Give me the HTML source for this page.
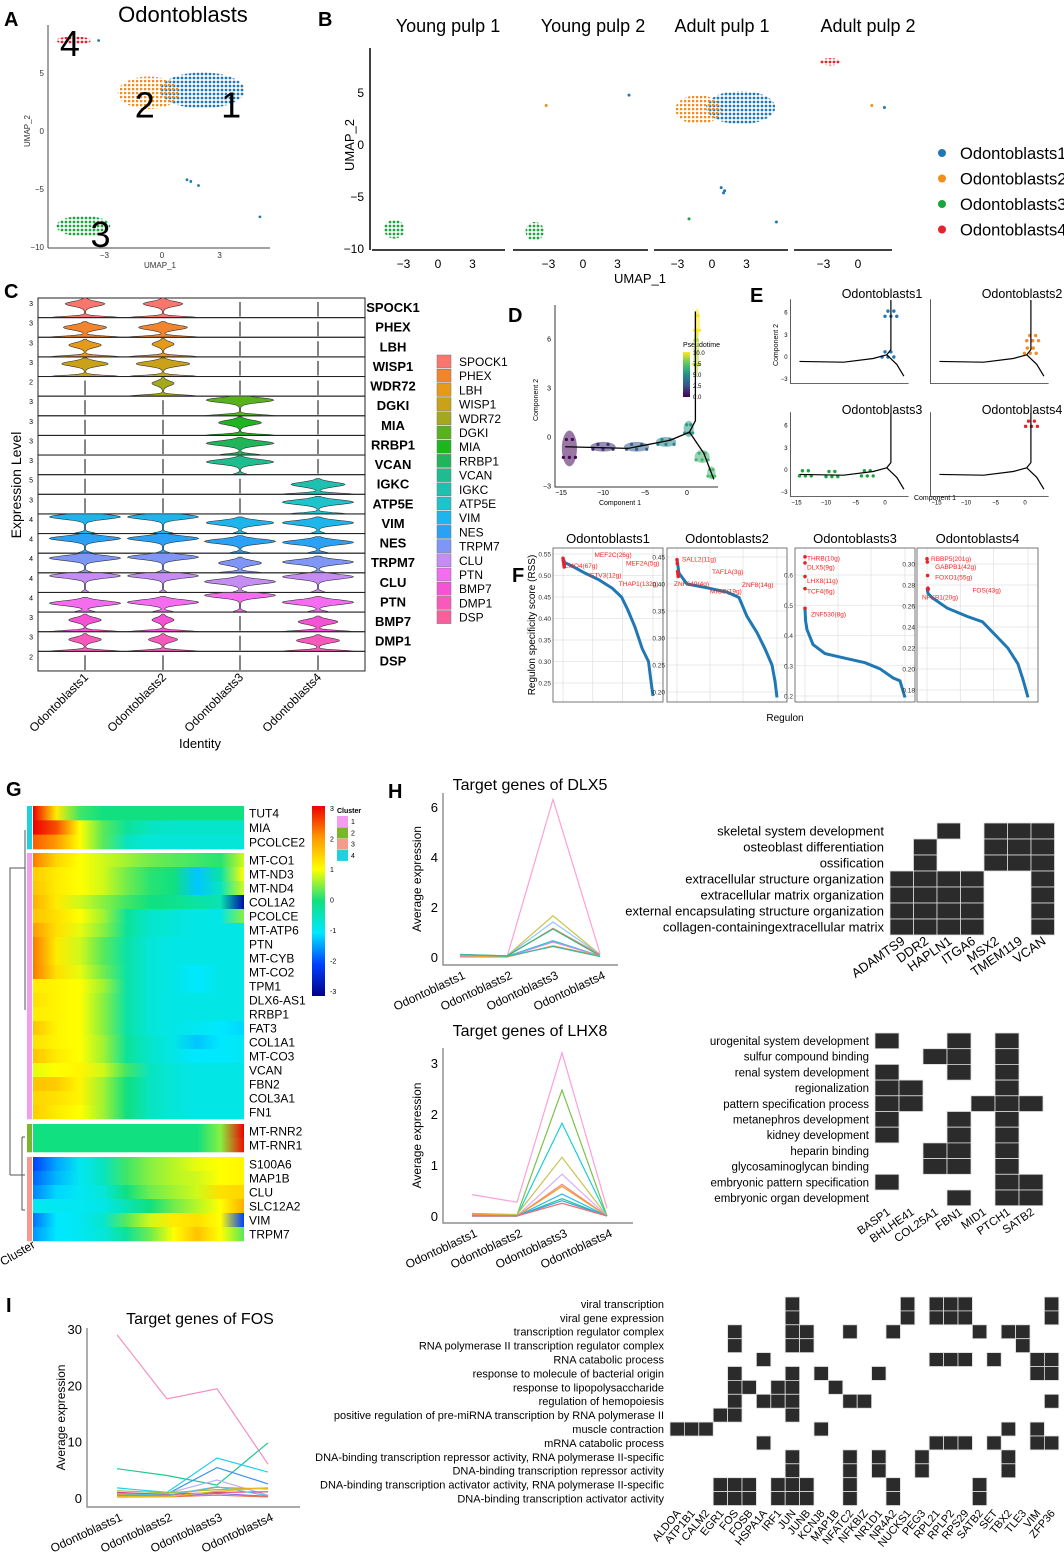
<!DOCTYPE html>
<html><head><meta charset="utf-8">
<style>
html,body{margin:0;padding:0;background:#fff;}
svg{display:block;font-family:"Liberation Sans",Arial,sans-serif;}
.pl{font-size:20px;font-weight:bold;}
</style></head>
<body>
<svg id="fig" width="1064" height="1560" viewBox="0 0 1064 1560" xmlns="http://www.w3.org/2000/svg">
<defs>
<pattern id="dot-c1" width="4" height="4" patternUnits="userSpaceOnUse"><circle cx="2" cy="2" r="1.4" fill="#1f78b4"/></pattern>
<pattern id="dot-c2" width="4" height="4" patternUnits="userSpaceOnUse"><circle cx="1" cy="1" r="1.4" fill="#f28e1c"/></pattern>
<pattern id="dot-c3" width="4" height="4" patternUnits="userSpaceOnUse"><circle cx="2" cy="2" r="1.4" fill="#1aa63c"/></pattern>
<pattern id="dot-c4" width="4" height="4" patternUnits="userSpaceOnUse"><circle cx="2" cy="2" r="1.4" fill="#e8212a"/></pattern>
<linearGradient id="pt-grad" x1="0" y1="1" x2="0" y2="0">
<stop offset="0" stop-color="#440154"/><stop offset="0.25" stop-color="#3b528b"/><stop offset="0.5" stop-color="#21908c"/><stop offset="0.75" stop-color="#5dc863"/><stop offset="1" stop-color="#fde725"/></linearGradient>
<linearGradient id="hm-grad" x1="0" y1="1" x2="0" y2="0">
<stop offset="0" stop-color="#00008b"/><stop offset="0.1667" stop-color="#0040ff"/><stop offset="0.3333" stop-color="#00e8ff"/><stop offset="0.5" stop-color="#10e080"/><stop offset="0.6667" stop-color="#ffff00"/><stop offset="0.8333" stop-color="#ff9900"/><stop offset="1" stop-color="#ee0000"/></linearGradient>
</defs>
<g id="static">
<text class="pl" x="4" y="26">A</text>
<text class="pl" x="318" y="26">B</text>
<text class="pl" x="4" y="298">C</text>
<text class="pl" x="508" y="322">D</text>
<text class="pl" x="750" y="302">E</text>
<text class="pl" x="512" y="582">F</text>
<text class="pl" x="6" y="796">G</text>
<text class="pl" x="388" y="798">H</text>
<text class="pl" x="6" y="1312">I</text>
<text x="183" y="22" font-size="22" text-anchor="middle">Odontoblasts</text>
<text x="160" y="268" font-size="8" text-anchor="middle" fill="#333">UMAP_1</text>
<text x="0" y="0" font-size="8" text-anchor="middle" fill="#333" transform="translate(30,131) rotate(-90)">UMAP_2</text>
<text x="640" y="283" font-size="13" text-anchor="middle">UMAP_1</text>
<text x="0" y="0" font-size="13" text-anchor="middle" transform="translate(354,145) rotate(-90)">UMAP_2</text>
<text x="0" y="0" font-size="14" text-anchor="middle" transform="translate(21,485) rotate(-90)">Expression Level</text>
<text x="200" y="748" font-size="13" text-anchor="middle">Identity</text>
<text x="620" y="505" font-size="7" text-anchor="middle">Component 1</text>
<text x="0" y="0" font-size="7" text-anchor="middle" transform="translate(538,400) rotate(-90)">Component 2</text>
<text x="683" y="347" font-size="7">Pseudotime</text>
<text x="935" y="500" font-size="7" text-anchor="middle">Component 1</text>
<text x="0" y="0" font-size="7" text-anchor="middle" transform="translate(778,345) rotate(-90)">Component 2</text>
<text x="0" y="0" font-size="10" text-anchor="middle" transform="translate(535,625) rotate(-90)">Regulon specificity score (RSS)</text>
<text x="785" y="721" font-size="10" text-anchor="middle">Regulon</text>
<text x="0" y="0" font-size="12" text-anchor="start" transform="translate(3,1266) rotate(-30)">Cluster</text>
</g>
<g id="dyn"></g>
</svg>
<script>
const NS='http://www.w3.org/2000/svg';
const root=document.getElementById('dyn');
function mk(tag,attrs,parent,text){const e=document.createElementNS(NS,tag);for(const k in attrs)e.setAttribute(k,attrs[k]);if(text!==undefined)e.textContent=text;(parent||root).appendChild(e);return e;}
function grp(name){const g=mk('g',{});return g;}

/* ===== Panel A / B data ===== */
const clusterNames=['Odontoblasts1','Odontoblasts2','Odontoblasts3','Odontoblasts4'];
const clusterColors=['#1f78b4','#f28e1c','#1aa63c','#e8212a'];
const aCx=[2.1,-0.7,-4.1,-4.6];
const aCy=[3.5,3.3,-8.2,7.8];
const aRx=[2.2,1.6,1.4,0.9];
const aRy=[1.55,1.4,0.9,0.35];
const aOutX=[-3.3,1.3,1.5,1.9,5.1];
const aOutY=[7.8,-4.2,-4.35,-4.7,-7.4];
const aLabelText=['1','2','3','4'];
const aLabelX=[3.6,-0.9,-3.2,-4.8];
const aLabelY=[2.3,2.3,-8.9,7.6];
const aTicksX=[-3,0,3];
const aTicksY=[5,0,-5,-10];

/* panel B samples */
const bSamples=['Young pulp 1','Young pulp 2','Adult pulp 1','Adult pulp 2'];
const bClSample=[0,1,2,2,3];
const bClCluster=[2,2,0,1,3];
const bClX=[-3.8,-4.2,2.5,-1.2,-2.4];
const bClY=[-8.1,-8.3,3.6,3.4,8.0];
const bClRx=[0.9,0.8,3.0,2.0,0.9];
const bClRy=[0.9,0.9,1.6,1.4,0.35];
const bOutSample=[1,1,2,2,2,2,2,3,3];
const bOutCluster=[1,0,0,0,0,2,0,1,0];
const bOutX=[-3.2,4.0,0.8,1.1,1.0,-2.0,5.6,1.2,2.3];
const bOutY=[3.8,4.8,-4.1,-4.4,-4.6,-7.1,-7.4,3.8,3.6];

/* Panel A */
(function(){
 const g=grp('panel-a-umap');
 const X=v=>162+v*19.2, Y=v=>131-v*11.6;
 let e=mk('line',{x1:48,y1:25,x2:48,y2:248,stroke:'#444','stroke-width':1},g);
 e=mk('line',{x1:48,y1:248,x2:270,y2:248,stroke:'#444','stroke-width':1},g);
 aTicksX.forEach(t=>{const l=mk('text',{x:X(t),y:258,'font-size':8,'text-anchor':'middle',fill:'#333'},g,String(t).replace('-','−'));});
 aTicksY.forEach(t=>{const l=mk('text',{x:44,y:Y(t)+3,'font-size':8,'text-anchor':'end',fill:'#333'},g,String(t).replace('-','−'));});
 aCx.forEach((c,i)=>{const el=mk('ellipse',{cx:X(c),cy:Y(aCy[i]),rx:aRx[i]*19.2,ry:aRy[i]*11.6,fill:'url(#dot-c'+(i+1)+')'},g);});
 aOutX.forEach((x,i)=>{const el=mk('circle',{cx:X(x),cy:Y(aOutY[i]),r:1.4,fill:clusterColors[0]},g);});
 aLabelText.forEach((t,i)=>{const el=mk('text',{x:X(aLabelX[i]),y:Y(aLabelY[i])+13,'font-size':36,'text-anchor':'middle'},g,t);});
})();

/* Panel B */
(function(){
 const g=grp('panel-b-umap-by-sample');
 const zeros=[438,583,712,858], segs=[[372,505],[513,648],[654,788],[794,892]];
 const Y=v=>145-v*10.4;
 let e=mk('line',{x1:370,y1:48,x2:370,y2:250,stroke:'#000','stroke-width':1.5},g);
 [5,0,-5,-10].forEach(t=>{const l=mk('text',{x:364,y:Y(t)+4,'font-size':12,'text-anchor':'end'},g,String(t).replace('-','−'));});
 bSamples.forEach((s,i)=>{
  const t=mk('text',{x:zeros[i]+10,y:32,'font-size':18,'text-anchor':'middle'},g,s);
  const a=mk('line',{x1:segs[i][0],y1:250,x2:segs[i][1],y2:250,stroke:'#000','stroke-width':1.5},g);
  [-3,0,3].forEach(tk=>{if(zeros[i]+tk*11.5>segs[i][1])return;const l=mk('text',{x:zeros[i]+tk*11.5,y:268,'font-size':12,'text-anchor':'middle'},g,String(tk).replace('-','−'));});
 });
 bClX.forEach((x,i)=>{const s=bClSample[i];const el=mk('ellipse',{cx:zeros[s]+x*11.5,cy:Y(bClY[i]),rx:bClRx[i]*11.5,ry:bClRy[i]*10.4,fill:'url(#dot-c'+(bClCluster[i]+1)+')'},g);});
 bOutX.forEach((x,i)=>{const el=mk('circle',{cx:zeros[bOutSample[i]]+x*11.5,cy:Y(bOutY[i]),r:1.5,fill:clusterColors[bOutCluster[i]]},g);});
 const lg=grp('b-legend');
 clusterNames.forEach((n,i)=>{const c=mk('circle',{cx:942,cy:153+i*25.5,r:4,fill:clusterColors[i]},lg);
  const t=mk('text',{x:960,y:159+i*25.5,'font-size':16.5},lg,n);});
})();

/* ===== Panel C violin data ===== */
const vGenes=['SPOCK1','PHEX','LBH','WISP1','WDR72','DGKI','MIA','RRBP1','VCAN','IGKC','ATP5E','VIM','NES','TRPM7','CLU','PTN','BMP7','DMP1','DSP'];
const vColors=['#f8766d','#f1842c','#e69a1a','#c9a21a','#a4a81c','#58b21e','#1fb51e','#20b55a','#1ebd8f','#1ec0b0','#1ec3cc','#1eb5ec','#2aa1f5','#7f96f6','#c58cf4','#f46cf0','#f552d6','#f75aba','#f8609c'];
const vTicks=['3','3','3','3','2','3','3','3','3','5','3','4','4','4','4','4','3','3','2'];
const vBulge=[[.55,.55,0,0],[.6,.68,0,0],[.45,.3,0,0],[.65,.75,0,0],[0,.3,0,0],[0,0,.95,0],[0,0,.6,0],[0,0,.95,0],[0,0,.95,0],[0,0,0,.75],[0,0,0,1],[1,1,.95,1],[1,1,1,1],[1,1,.6,1],[1,1,1,1],[1,1,1,1],[.45,.3,0,.55],[.45,.4,0,.6],[0,0,0,0]];
const vPos=[[.7,.7,0,0],[.5,.5,0,0],[.6,.65,0,0],[.65,.65,0,0],[0,.65,0,0],[0,0,.8,0],[0,0,.65,0],[0,0,.6,0],[0,0,.65,0],[0,0,0,.5],[0,0,0,.6],[.85,.85,.55,.55],[.75,.75,.6,.55],[.75,.8,.5,.55],[.85,.85,.55,.8],[.45,.5,.85,.5],[.6,.6,0,.5],[.6,.6,0,.55],[0,0,0,0]];
const vBase=[[1,1,0,0],[1,1,0,0],[1,1,0,0],[1,1,0,0],[0,1,0,0],[0,0,1,0],[0,0,1,0],[0,0,.6,0],[0,0,.2,0],[0,0,0,1],[0,0,0,.8],[.3,.3,.2,.2],[.2,.2,.3,.3],[.2,.2,.6,.2],[.1,.1,.2,.2],[.3,.3,.2,.3],[1,1,0,1],[1,1,0,1],[0,0,0,0]];
(function(){
 const g=grp('panel-c-violin');
 const top=298,h=19.63,x0=38,x1=365,cx=[85,163,240,318],W=35;
 vGenes.forEach((gn,r)=>{
  const y0=top+r*h,yb=y0+h;
  const fr=mk('rect',{x:x0,y:y0,width:x1-x0,height:h,fill:'none',stroke:'#222','stroke-width':1},g);
  const tk=mk('text',{x:33,y:y0+8,'font-size':7,'text-anchor':'end'},g,vTicks[r]);
  const lb=mk('text',{x:393,y:y0+14,'font-size':13,'font-weight':'bold','text-anchor':'middle'},g,gn);
  for(let c=0;c<4;c++){
   const b=vBulge[r][c],p=vPos[r][c],bs=vBase[r][c];
   if(b===0&&bs===0){const l=mk('line',{x1:cx[c],y1:yb-1,x2:cx[c],y2:y0+4,stroke:'#333','stroke-width':1.2},g);continue;}
   const N=24,left=[],right=[];
   const tmax=b>0?Math.min(1,p+0.3):0.35;
   for(let k=0;k<=N;k++){const t=k/N*tmax;const w=W*(bs*Math.exp(-Math.pow(t/0.09,2))+b*Math.exp(-Math.pow((t-p)/0.17,2)))+0.6;
    const y=yb-t*h;right.push((cx[c]+w).toFixed(1)+','+y.toFixed(1));left.unshift((cx[c]-w).toFixed(1)+','+y.toFixed(1));}
   const pth=mk('polygon',{points:right.concat(left).join(' '),fill:vColors[r],stroke:'#333','stroke-width':0.6},g);
  }
 });
 clusterNames.forEach((n,c)=>{const t=mk('text',{x:0,y:0,'font-size':12,'text-anchor':'end',transform:`translate(${cx[c]+4},${678}) rotate(-45)`},g,n);});
 const lg=grp('panel-c-legend');
 vGenes.forEach((gn,i)=>{const s=mk('rect',{x:437,y:355+i*14.2,width:14,height:13,fill:vColors[i],stroke:'#777','stroke-width':0.5},lg);
  const t=mk('text',{x:459,y:366+i*14.2,'font-size':12},lg,gn);});
})();

/* ===== Panel D / E trajectory ===== */
const treeX=[[-14.5,-7,-2,0.3],[0.3,1.0,1.0],[0.3,2,3.2]];
const treeY=[[-0.6,-0.7,-0.2,0.3],[0.3,1,7.7],[0.3,-1,-2.6]];
const dGrpX=[-14,-10,-6,-2.5,0.2,1.8,2.9,1.1,1.2];
const dGrpY=[-0.7,-0.6,-0.6,-0.3,0.5,-1.2,-2.2,5.2,7.0];
const dGrpRx=[0.9,1.5,1.5,1.2,0.6,0.9,0.5,0.35,0.35];
const dGrpRy=[1.1,0.3,0.3,0.3,0.5,0.4,0.4,1.5,0.9];
const dGrpPt=[0.2,1.5,3,4.5,5.5,6.5,7,9,10];
const eHiX=[[0.5,1.0],[0.9,1.3],[-13.5,-9,-3],[1.1]];
const eHiY=[[0.3,5.8],[0.8,2.5],[-0.5,-0.6,-0.5],[6.2]];
function ptColor(v){const s=[[0,[68,1,84]],[2.5,[59,82,139]],[5,[33,144,140]],[7.5,[93,200,99]],[10,[253,231,37]]];for(let i=0;i<4;i++){if(v<=s[i+1][0]){const f=(v-s[i][0])/2.5;const c=s[i][1].map((a,k)=>Math.round(a+(s[i+1][1][k]-a)*f));return `rgb(${c})`;}}return 'rgb(253,231,37)';}
(function(){
 const g=grp('panel-d-pseudotime');
 const X=v=>687+v*8.4, Y=v=>437-v*16.3;
 let e=mk('polyline',{points:'555,305 555,487 718,487',fill:'none',stroke:'#333','stroke-width':1},g);
 [-15,-10,-5,0].forEach(t=>{const l=mk('text',{x:X(t),y:495,'font-size':7,'text-anchor':'middle'},g,String(t).replace('-','−'));});
 [6,3,0,-3].forEach(t=>{const l=mk('text',{x:551,y:Y(t)+2.5,'font-size':7,'text-anchor':'end'},g,String(t).replace('-','−'));});
 dGrpX.forEach((x,i)=>{const c=ptColor(dGrpPt[i]);for(let k=-2;k<=2;k++){const el=mk('circle',{cx:X(x+k*dGrpRx[i]/2.5),cy:Y(dGrpY[i]+((k%2)?0.5:-0.5)*dGrpRy[i]),r:1.6,fill:c},g);}
  const el=mk('ellipse',{cx:X(x),cy:Y(dGrpY[i]),rx:dGrpRx[i]*8.4,ry:dGrpRy[i]*16.3,fill:c,'fill-opacity':0.55},g);});
 treeX.forEach((br,i)=>{const el=mk('polyline',{points:br.map((x,k)=>X(x)+','+Y(treeY[i][k])).join(' '),fill:'none',stroke:'#000','stroke-width':1.3},g);});
 e=mk('rect',{x:683,y:352,width:7,height:45,fill:'url(#pt-grad)'},g);
 ['10.0','7.5','5.0','2.5','0.0'].forEach((t,i)=>{const l=mk('text',{x:693,y:355+i*11,'font-size':6},g,t);});

 const ge=grp('panel-e-trajectory-by-cluster');
 const ox=[885,1025,885,1025],oy=[357,357,470,470],sx=5.9,sy=7.4;
 clusterNames.forEach((n,p)=>{
  const X2=v=>ox[p]+v*sx, Y2=v=>oy[p]-v*sy;
  const t=mk('text',{x:ox[p]-3,y:p<2?298:414,'font-size':12.5,'text-anchor':'middle'},ge,n);
  const ax=mk('polyline',{points:`${X2(-16)},${Y2(7.8)} ${X2(-16)},${Y2(-3.6)} ${X2(4)},${Y2(-3.6)}`,fill:'none',stroke:'#333','stroke-width':0.8},ge);
  if(p%2===0)[6,3,0,-3].forEach(tk=>{const l=mk('text',{x:X2(-16)-3,y:Y2(tk)+2,'font-size':6,'text-anchor':'end'},ge,String(tk).replace('-','−'));});
  if(p>=2)[-15,-10,-5,0].forEach(tk=>{const l=mk('text',{x:X2(tk),y:Y2(-3.6)+8,'font-size':6,'text-anchor':'middle'},ge,String(tk).replace('-','−'));});
  eHiX[p].forEach((x,k)=>{for(let j=-2;j<=2;j++){const el=mk('circle',{cx:X2(x+j*0.5),cy:Y2(eHiY[p][k]+(j%2?0.4:-0.3)),r:1.7,fill:clusterColors[p]},ge);}});
  treeX.forEach((br,i)=>{const el=mk('polyline',{points:br.map((x,k)=>X2(x)+','+Y2(treeY[i][k])).join(' '),fill:'none',stroke:'#000','stroke-width':1.2},ge);});
 });
})();

/* ===== Panel F RSS ===== */
const fTitles=['Odontoblasts1','Odontoblasts2','Odontoblasts3','Odontoblasts4'];
const fFrac=[[0,.02,.1,.25,.4,.55,.65,.72,.8,.88,.95,.98,1],[0,.02,.1,.3,.5,.62,.7,.8,.88,.95,.98,1],[0,.005,.02,.08,.2,.4,.6,.75,.88,.95,1],[0,.01,.05,.2,.4,.55,.7,.8,.9,.95,1]];
const fRss=[[.54,.53,.522,.505,.49,.47,.45,.42,.38,.33,.30,.25,.22],[.445,.42,.40,.393,.385,.375,.34,.31,.28,.25,.22,.19],[.49,.45,.42,.37,.34,.325,.31,.29,.26,.25,.195],[.277,.272,.268,.258,.25,.245,.23,.22,.205,.19,.173]];
const fTicks=[[.25,.30,.35,.40,.45,.50,.55],[.20,.25,.30,.35,.40,.45],[.2,.3,.4,.5,.6],[.18,.20,.22,.24,.26,.28,.30]];
const fRedVal=[[.54,.535,.53,.525,.52],[.445,.438,.423,.418,.414],[.66,.64,.595,.555,.49],[.305,.302,.289,.277,.276]];
const fRedLbl=[['MEF2C(26g)','LMO4(67g)','MEF2A(5g)','ETV3(12g)','THAP1(132g)'],['SALL2(11g)','TAF1A(3g)','ZNF649(4g)','ZNF8(14g)','MIOS(19g)'],['THRB(10g)','DLX5(9g)','LHX8(11g)','TCF4(6g)','ZNF530(8g)'],['RBBP5(201g)','GABPB1(42g)','FOXO1(55g)','FOS(43g)','NFKB1(20g)']];
(function(){
 const g=grp('panel-f-rss');
 const fx=[[553,663],[667,787],[795,915],[917,1038]];
 const ref=[[.55,554,.25,683],[.45,557,.20,692],[.6,575,.2,696],[.30,564,.18,690]];
 const lblPos=[[[.35,.548],[.02,.522],[.7,.528],[.3,.5],[.62,.48]],[[.05,.445],[.35,.422],[-.03,.4],[.65,.398],[.33,.386]],[[.02,.655],[.02,.625],[.02,.58],[.02,.545],[.06,.47]],[[.04,.305],[.08,.297],[.08,.287],[.45,.275],[-.05,.268]]];
 fTitles.forEach((tl,p)=>{
  const [a,ya,b,yb]=ref[p];const Y=v=>ya+(v-a)*(yb-ya)/(b-a);const x0=fx[p][0]+10,x1=fx[p][1]-10;const X=f=>x0+f*(x1-x0);
  const t=mk('text',{x:(fx[p][0]+fx[p][1])/2,y:543,'font-size':13,'text-anchor':'middle'},g,tl);
  fTicks[p].forEach(v=>{const l=mk('line',{x1:fx[p][0],x2:fx[p][1],y1:Y(v),y2:Y(v),stroke:'#e3e3e3','stroke-width':0.8},g);
   const tx=mk('text',{x:fx[p][0]-2,y:Y(v)+2.5,'font-size':6.5,'text-anchor':'end',fill:'#333'},g,v.toFixed(p===2?1:2));});
  [0,.33,.66,1].forEach(f=>{const l=mk('line',{x1:X(f),x2:X(f),y1:548,y2:702,stroke:'#e3e3e3','stroke-width':0.8},g);});
  const fr=mk('rect',{x:fx[p][0],y:548,width:fx[p][1]-fx[p][0],height:154,fill:'none',stroke:'#555','stroke-width':0.8},g);
  const ln=mk('polyline',{points:fFrac[p].map((f,i)=>X(f).toFixed(1)+','+Y(fRss[p][i]).toFixed(1)).join(' '),fill:'none',stroke:'#1f78b4','stroke-width':3},g);
  fRedVal[p].forEach((v,i)=>{const c=mk('circle',{cx:X(0)+(p===2?0:i*0.3),cy:Y(v),r:1.8,fill:'#e8212a'},g);
   const lp=lblPos[p][i];const tx=mk('text',{x:X(lp[0]),y:Y(lp[1])+2,'font-size':6.5,fill:'#ff2020'},g,fRedLbl[p][i]);});
 });
})();

/* ===== Panel G heatmap ===== */
const gGenes=['TUT4','MIA','PCOLCE2','MT-CO1','MT-ND3','MT-ND4','COL1A2','PCOLCE','MT-ATP6','PTN','MT-CYB','MT-CO2','TPM1','DLX6-AS1','RRBP1','FAT3','COL1A1','MT-CO3','VCAN','FBN2','COL3A1','FN1','MT-RNR2','MT-RNR1','S100A6','MAP1B','CLU','SLC12A2','VIM','TRPM7'];
const gCluster=[4,4,4,1,1,1,1,1,1,1,1,1,1,1,1,1,1,1,1,1,1,1,2,2,3,3,3,3,3,3];
const gVals=[
[3,1.2,0.2,0,0,0,0,0,0,0],[3,2.5,1,0.3,-0.2,-0.5,-0.6,-0.6,-0.6,-0.6],[2.4,2,1,0.3,-0.5,-0.7,-0.7,-0.7,-0.7,-0.7],
[2.2,1.4,1,0.8,0.6,0.4,0.3,0.2,0.1,0.8],[1.5,1.2,1,0.8,0.4,0.1,0,-1.2,-0.3,1],[1.6,1.2,1,0.8,0.4,0.1,0,-1.2,-0.5,0.8],
[1.8,1.2,0.8,0.5,0.2,0,-0.1,-0.3,-0.4,-2.8],[1.6,1.3,1,0.6,-0.2,-0.6,-0.7,-0.8,-0.8,0.5],[2,1.3,0.9,0.5,-0.2,-0.6,-0.7,-0.8,-0.8,-0.8],
[2.2,1.2,0.8,0.3,-0.3,-0.7,-0.8,-0.8,-0.8,-0.8],[2.2,1.2,0.8,0.3,-0.3,-0.7,-0.8,-0.8,-0.8,-0.8],[2.2,1.3,0.9,0.4,-0.3,-0.7,-0.8,-1,-0.8,-0.8],
[1.2,1.1,1,0.6,-0.3,-0.7,-0.8,-1,-0.8,-0.8],[1.3,1.1,1,0.5,-0.3,-0.7,-0.8,-0.8,-0.8,-0.8],[1.2,1.1,1,0.5,-0.3,-0.7,-0.8,-0.8,-0.8,-0.8],
[1.6,1.1,1,0.5,-0.3,-0.7,-0.8,-0.9,-1,-1.1],[1.3,1.1,1,0.6,-0.2,-0.6,-0.8,-1.2,-1,-0.9],[1.6,1.2,1,0.6,-0.2,-0.6,-0.8,-1,-1,-0.9],
[0.9,1,1.1,0.8,0.2,-0.5,-0.7,-0.8,-0.8,-0.8],[1.6,1.5,1.1,0.6,0,-0.5,-0.7,-0.8,-0.8,-0.8],[1.4,1.3,1.1,0.6,0,-0.5,-0.7,-0.8,-0.8,-0.8],
[1.5,1.2,1,0.6,0,-0.5,-0.7,-0.8,-0.8,-0.8],[0,0,0,0,0,0,0,0,0.5,3],[0,0,0,0,0,0,0,0,0.5,2.9],
[-2,-1.4,-0.9,-0.5,0.2,0.5,0.7,0.9,1,1.1],[-1.8,-1.3,-0.9,-0.5,0.2,0.5,0.7,0.8,1,1.1],[-1.6,-1.1,-0.9,-0.7,0,0.4,0.6,0.8,1.3,1.4],
[-0.9,-0.9,-0.9,-0.8,-0.4,0,0.4,0.7,1,1.8],[-1.7,-1,-0.9,-0.6,0.3,0.8,1.2,1.3,1,-2],[-1.5,-1,-0.9,-0.7,-0.2,0.4,1,1.6,1,0.3]];
const gClusterColors=['#f49cf0','#76b82a','#f79a8e','#1ed0e0'];
function hmColor(v){const s=[[-3,[0,0,139]],[-2,[0,64,255]],[-1,[0,232,255]],[0,[16,224,128]],[1,[255,255,0]],[2,[255,153,0]],[3,[238,0,0]]];v=Math.max(-3,Math.min(3,v));for(let i=0;i<6;i++){if(v<=s[i+1][0]){const f=v-s[i][0];const c=s[i][1].map((a,k)=>Math.round(a+(s[i+1][1][k]-a)*f));return `rgb(${c})`;}}return 'rgb(238,0,0)';}
(function(){
 const g=grp('panel-g-heatmap');
 const defs=document.querySelector('defs');
 const blocks=[[0,3,806,849],[3,22,853,1119],[22,24,1124,1152],[24,30,1157,1241]];
 const x0=33,x1=244;
 blocks.forEach(([a,b,y0,y1],bi)=>{
  const rh=(y1-y0)/(b-a);
  for(let r=a;r<b;r++){
   const id='hmrow'+r;const lg=mk('linearGradient',{id:id,x1:0,y1:0,x2:1,y2:0},defs);
   gVals[r].forEach((v,k)=>mk('stop',{offset:(k/(gVals[r].length-1)).toFixed(3),'stop-color':hmColor(v)},lg));
   const y=y0+(r-a)*rh;
   const rc=mk('rect',{x:x0,y:y,width:x1-x0,height:rh+0.3,fill:`url(#${id})`},g);
   const cb=mk('rect',{x:27,y:y,width:5,height:rh+0.3,fill:gClusterColors[gCluster[r]-1]},g);
   const t=mk('text',{x:249,y:y+rh/2+4.5,'font-size':12},g,gGenes[r]);
  }
 });
 const dd=mk('path',{d:'M10,1175 H25 M10,1175 V868 H25 M25,830 V1010 M22,1137 H25 M22,1137 V1210 H25',fill:'none',stroke:'#555','stroke-width':1},g);
 const cbar=mk('rect',{x:312,y:806,width:13,height:190,fill:'url(#hm-grad)'},g);
 ['3','2','1','0','-1','-2','-3'].forEach((t,i)=>{const l=mk('text',{x:330,y:811+i*30.5,'font-size':7},g,t);});
 const ct=mk('text',{x:337,y:813,'font-size':7,'font-weight':'bold'},g,'Cluster');
 gClusterColors.forEach((c,i)=>{const r=mk('rect',{x:337,y:816+i*11.3,width:11,height:11,fill:c},g);
  const t=mk('text',{x:351,y:824+i*11.3,'font-size':7},g,String(i+1));});
})();

/* ===== Line charts (H, I) ===== */
const lcCats=['Odontoblasts1','Odontoblasts2','Odontoblasts3','Odontoblasts4'];
const dlx5Series=[[0.05,0,6.3,0.15],[0.1,0.05,1.65,0.1],[0.05,0.05,1.4,0.1],[0.05,0.03,1.15,0.1],[0.1,0.05,1.12,0.05],[0.05,0.03,0.65,0.05],[0,0,0.6,0.05],[0.05,0,0.45,0.05],[0.1,0.03,0.42,0.02]];
const dlx5Colors=['#ff9fd8','#c8c24a','#8fc7ff','#f58a7a','#36b57b','#18c9d6','#d08af0','#f0a030','#3cb8a8'];
const lhx8Series=[[0.42,0.27,3.2,0.15],[0.05,0.02,2.47,0],[0.02,0,1.82,0],[0.05,0.03,1.15,0],[0,0,0.82,0],[0.03,0,0.62,0],[0.05,0,0.58,0],[0,0,0.43,0],[0,0,0.34,0],[0,0,0.3,0],[0,0,0.25,0]];
const lhx8Colors=['#ff9fd8','#7cc24a','#18d0d6','#c8c24a','#d6b0f8','#f58a7a','#f0a030','#30b8f0','#18c9a0','#40a0e0','#f07070'];
const fosSeries=[[29,17.6,19.4,6],[5.2,4,2.3,9.8],[1.8,1,7.1,4.6],[0.8,0.7,5.4,2.5],[0.5,0.8,3.2,0.5],[1.3,0.9,1.5,1.8],[0.6,0.4,1.9,1.6],[1,0.6,1,1.1],[0.4,0.3,0.8,0.3],[0.2,0.2,0.5,0.2],[0.8,0.5,2,0.4],[0.3,0.2,1.2,1.8]];
const fosColors=['#f48fbf','#20c890','#20d0f0','#3a8ff0','#c0b0f0','#a0c040','#f0a020','#e04080','#9070e0','#f07050','#50c0e0','#e0c020'];
function lineChart(name,title,tx,ty,series,colors,cats,yTicks,yAt0,pxPer,ax0,ax1,axY,yTop,catX,fs){
 const g=grp(name);
 const Y=v=>yAt0-v*pxPer;
 const t=mk('text',{x:tx,y:ty,'font-size':fs||16,'text-anchor':'middle'},g,title);
 const ax=mk('polyline',{points:`${ax0},${yTop} ${ax0},${axY} ${ax1},${axY}`,fill:'none',stroke:'#777','stroke-width':1.2},g);
 yTicks.forEach(v=>{const l=mk('text',{x:ax0-5,y:Y(v)+5,'font-size':13,'text-anchor':'end'},g,String(v));});
 const yt=mk('text',{x:0,y:0,'font-size':12,'text-anchor':'middle',transform:`translate(${ax0-22},${(yTop+axY)/2}) rotate(-90)`},g,'Average expression');
 cats.forEach((c,i)=>{const l=mk('text',{x:0,y:0,'font-size':12,'text-anchor':'end',transform:`translate(${catX[i]+6},${axY+13}) rotate(-25)`},g,c);});
 series.forEach((s,k)=>{const p=mk('polyline',{points:s.map((v,i)=>catX[i]+','+Y(v).toFixed(1)).join(' '),fill:'none',stroke:colors[k%colors.length],'stroke-width':1.2},g);});
}
lineChart('dlx5-chart','Target genes of DLX5',530,790,dlx5Series,dlx5Colors,lcCats,[0,2,4,6],957,25,443,618,965,793,[460,507,553,600]);
lineChart('lhx8-chart','Target genes of LHX8',530,1036,lhx8Series,lhx8Colors,lcCats,[0,1,2,3],1216,51,443,633,1223,1048,[472,517,562,607]);
lineChart('fos-chart','Target genes of FOS',200,1324,fosSeries,fosColors,lcCats,[0,10,20,30],1498,5.63,87,300,1507,1328,[117,167,217,268]);

/* ===== GO matrices ===== */
const goTopTerms=['skeletal system development','osteoblast differentiation','ossification','extracellular structure organization','extracellular matrix organization','external encapsulating structure organization','collagen-containingextracellular matrix'];
const goTopGenes=['ADAMTS9','DDR2','HAPLN1','ITGA6','MSX2','TMEM119','VCAN'];
const goTopHits=[[2,4,5,6],[1,4,5,6],[1,4,5,6],[0,1,2,3,6],[0,1,2,3,6],[0,1,2,3,6],[0,1,2,3,6]];
const goMidTerms=['urogenital system development','sulfur compound binding','renal system development','regionalization','pattern specification process','metanephros development','kidney development','heparin binding','glycosaminoglycan binding','embryonic pattern specification','embryonic organ development'];
const goMidGenes=['BASP1','BHLHE41','COL25A1','FBN1','MID1','PTCH1','SATB2'];
const goMidHits=[[0,3,5],[2,3,5],[0,3,5],[0,1,5],[0,1,4,5,6],[0,3,5],[0,3,5],[2,3,5],[2,3,5],[0,5,6],[3,5,6]];
const goFosTerms=['viral transcription','viral gene expression','transcription regulator complex','RNA polymerase II transcription regulator complex','RNA catabolic process','response to molecule of bacterial origin','response to lipopolysaccharide','regulation of hemopoiesis','positive regulation of pre-miRNA transcription by RNA polymerase II','muscle contraction','mRNA catabolic process','DNA-binding transcription repressor activity, RNA polymerase II-specific','DNA-binding transcription repressor activity','DNA-binding transcription activator activity, RNA polymerase II-specific','DNA-binding transcription activator activity'];
const goFosGenes=['ALDOA','ATP1B1','CALM2','EGR1','FOS','FOSB','HSPA1A','IRF1','JUN','JUNB','KCNJ8','MAP1B','NFATC2','NFKBIZ','NR1D1','NR4A2','NUCKS1','PEG3','RPL21','RPLP2','RPS29','SATB2','SET','TBX2','TLE3','VIM','ZFP36'];
const goFosHits=[[8,16,18,19,20,26],[8,16,18,19,20,26],[4,8,9,12,15,21,23,24],[4,8,9,24],[6,18,19,20,22,25,26],[4,8,10,14,25,26],[4,5,7,8,11],[4,6,7,8,12,13,26],[3,4,8],[0,1,2,10,23,25],[6,18,19,20,22,25,26],[8,12,14,17,23],[8,12,14,17,23],[3,4,5,7,8,9,12,15,21],[3,4,5,7,8,9,12,15,21]];
function goMatrix(name,terms,genes,hits,x0,y0,cw,rh,fs,rot){
 const g=grp(name);
 terms.forEach((t,r)=>{const l=mk('text',{x:x0-6,y:y0+r*rh+rh/2+fs*0.36,'font-size':fs,'text-anchor':'end'},g,t);
  hits[r].forEach(c=>{const b=mk('rect',{x:x0+c*cw,y:y0+r*rh,width:cw,height:rh,fill:'#2b2b2b',stroke:'#dcdcdc','stroke-width':0.8},g);});});
 const yb=y0+terms.length*rh;
 genes.forEach((gn,c)=>{const l=mk('text',{x:0,y:0,'font-size':fs,'text-anchor':'end',transform:`translate(${x0+c*cw+cw/2+4},${yb+8}) rotate(${rot})`},g,gn);});
}
goMatrix('go-dlx5',goTopTerms,goTopGenes,goTopHits,890,823,23.5,16,13,-35);
goMatrix('go-lhx8',goMidTerms,goMidGenes,goMidHits,875,1033,24,15.7,11.5,-35);
goMatrix('go-fos',goFosTerms,goFosGenes,goFosHits,670,1297,14.4,13.9,11,-50);
</script>
</body></html>
